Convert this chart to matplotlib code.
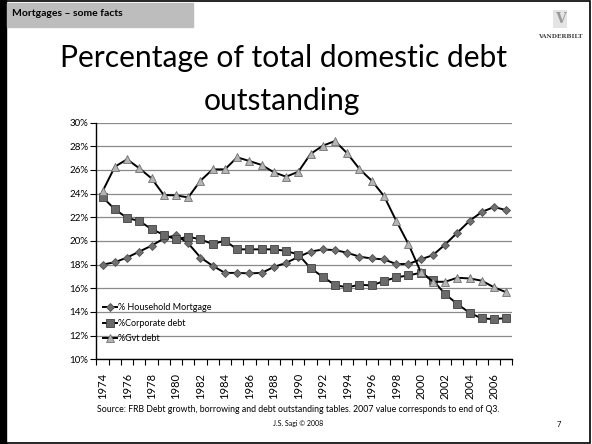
"""Slide chart: percentage of total domestic debt outstanding, 1974-2007."""

import matplotlib

matplotlib.use("Agg")
import matplotlib.pyplot as plt
from matplotlib.patches import Rectangle

plt.rcParams["font.family"] = ["Lato", "DejaVu Sans"]

years = list(range(1974, 2008))
household = [18.0, 18.2, 18.6, 19.1, 19.6, 20.2, 20.5, 19.8, 18.6, 17.9,
             17.3, 17.3, 17.26, 17.3, 17.8, 18.15, 18.65, 19.1, 19.28, 19.23,
             19.0, 18.67, 18.52, 18.44, 18.05, 18.05, 18.44, 18.8, 19.7, 20.7,
             21.7, 22.45, 22.87, 22.6]
corporate = [23.7, 22.67, 21.95, 21.68, 21.0, 20.52, 20.13, 20.36, 20.13, 19.74,
             20.02, 19.29, 19.29, 19.29, 19.29, 19.16, 18.85, 17.7, 16.97, 16.27,
             16.08, 16.3, 16.24, 16.61, 16.92, 17.09, 17.31, 16.69, 15.51, 14.67,
             13.93, 13.45, 13.4, 13.48]
govt = [24.2, 26.27, 26.9, 26.14, 25.29, 23.88, 23.85, 23.68, 25.09, 26.05,
        26.05, 27.07, 26.75, 26.42, 25.8, 25.43, 25.85, 27.35, 28.05, 28.44,
        27.4, 26.08, 25.09, 23.8, 21.71, 19.74, 17.4, 16.55, 16.55, 16.89,
        16.83, 16.64, 16.08, 15.66]
labels = ["% Household Mortgage", "%Corporate debt", "%Gvt debt"]
yticks = list(range(10, 31, 2))
xtick_years = list(range(1974, 2008, 2))

fig = plt.figure(figsize=(5.92, 4.44), dpi=100)
W, H = 592, 444


def fx(px):
    return px / W


def fy(py):
    return 1 - py / H


# slide frame + header bar
fig.patches.append(Rectangle((fx(5), fy(443)), fx(585), 442 / H,
                             transform=fig.transFigure, fill=False, lw=1.2, ec="black"))
fig.patches.append(Rectangle((0, 0), fx(6), 1, transform=fig.transFigure, color="black"))
fig.patches.append(Rectangle((fx(7), fy(27)), fx(186), 24 / H,
                             transform=fig.transFigure, color="#bdbdbd"))
fig.text(fx(12), fy(14), "Mortgages \u2013 some facts", fontsize=7.5, fontweight="bold",
         va="center", ha="left")

# logo stand-in
fig.text(fx(560), fy(19), "V", fontsize=10, family="DejaVu Serif", fontweight="bold",
         color="#9a9a9a", ha="center", va="center",
         bbox=dict(boxstyle="square,pad=0.15", fc="#e4e4e4", ec="none"))
fig.text(fx(560), fy(36), "VANDERBILT", fontsize=4.2, family="DejaVu Serif",
         fontweight="bold", color="#444444", ha="center", va="center")

fig.text(fx(283), fy(66.7), "Percentage of total domestic debt", fontsize=21.6,
         ha="center", va="baseline")
fig.text(fx(282), fy(110), "outstanding", fontsize=21.6, ha="center", va="baseline")

ax = fig.add_axes([fx(96.5), fy(359.3), fx(512.4 - 96.5), (359.3 - 122.6) / H])
ax.plot(years, household, "-D", color="black", lw=1.4, ms=3.6, mfc="#707070", mec="#505050",
        mew=0.6, label=labels[0])
ax.plot(years, corporate, "-s", color="black", lw=1.4, ms=5.5, mfc="#6a6a6a", mec="#404040",
        mew=0.6, label=labels[1])
ax.plot(years, govt, "-^", color="black", lw=1.4, ms=6, mfc="#b5b5b5", mec="#707070",
        mew=0.6, label=labels[2])

ax.set_xlim(1973.5, 2007.5)
ax.set_ylim(10, 30)
ax.set_yticks(yticks)
ax.set_yticklabels([f"{v}%" for v in yticks], fontsize=7)
ax.set_xticks([y + 0.5 for y in range(1973, 2008)], minor=False)
ax.set_xticklabels([])
ax.set_xticks(xtick_years, minor=True)
ax.set_xticklabels([str(y) for y in xtick_years], minor=True, rotation=90, fontsize=8)
ax.tick_params(axis="x", which="minor", length=0, pad=10)
ax.tick_params(axis="x", which="major", length=4, width=0.8, direction="out")
ax.tick_params(axis="y", length=4, width=0.8, direction="out", pad=2)
ax.grid(axis="y", color="#8a8a8a", lw=0.9)
ax.set_axisbelow(True)
for side in ("top", "right"):
    ax.spines[side].set_visible(False)
for side in ("left", "bottom"):
    ax.spines[side].set_linewidth(1.0)

ax.legend(loc="upper left", bbox_to_anchor=(0.0, 0.265), frameon=False, fontsize=6.5,
          handlelength=1.6, handletextpad=0.05, labelspacing=0.75, borderaxespad=0.3)

fig.text(fx(298), fy(409), "Source: FRB Debt growth, borrowing and debt outstanding tables. "
         "2007 value corresponds to end of Q3.", fontsize=6.3, ha="center", va="center")
fig.text(fx(298), fy(423), "J.S. Sagi \u00a9 2008", fontsize=5, ha="center", va="center")
fig.text(fx(559), fy(424), "7", fontsize=5.5, ha="center", va="center")

fig.savefig("out.png", dpi=100)
